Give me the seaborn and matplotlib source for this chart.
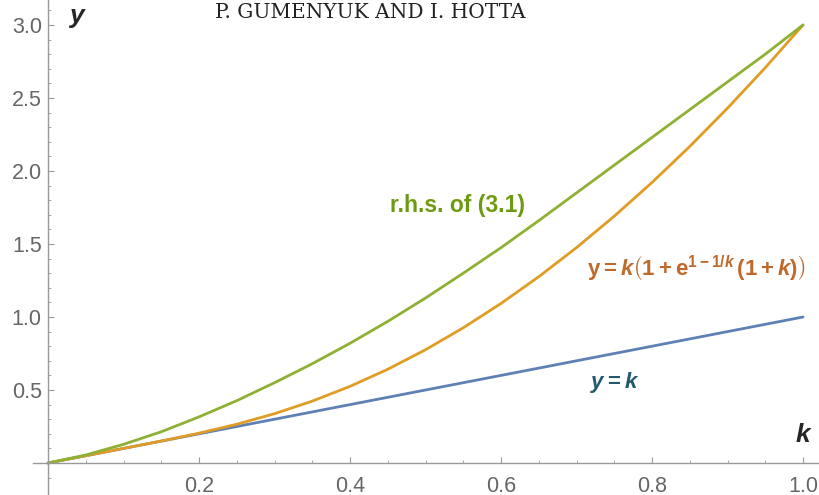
import matplotlib
matplotlib.use("Agg")
import matplotlib.pyplot as plt
import seaborn as sns
import pandas as pd

# curve values
k_vals = [0.0, 0.05, 0.1, 0.15, 0.2, 0.25, 0.3, 0.35, 0.4, 0.45, 0.5,
          0.55, 0.6, 0.65, 0.7, 0.75, 0.8, 0.85, 0.9, 0.95, 1.0]
line_vals = [0.0, 0.05, 0.1, 0.15, 0.2, 0.25, 0.3, 0.35, 0.4, 0.45, 0.5,
             0.55, 0.6, 0.65, 0.7, 0.75, 0.8, 0.85, 0.9, 0.95, 1.0]
exp_vals = [0.0, 0.05, 0.1, 0.1506, 0.2044, 0.2656, 0.3378, 0.4238, 0.5250,
            0.6422, 0.7759, 0.9262, 1.0929, 1.2760, 1.4752, 1.6905, 1.9215,
            2.1681, 2.4302, 2.7075, 3.0]
rhs_vals = [0.0, 0.055, 0.128, 0.214, 0.316, 0.427, 0.55, 0.68, 0.82, 0.97,
            1.13, 1.30, 1.475, 1.66, 1.85, 2.04, 2.23, 2.42, 2.61, 2.80, 3.0]

curve_names = ["y = k", "exp", "rhs"]
curve_colors = ["#5E81B5", "#E19C24", "#8FB032"]

x_ticks = [0.2, 0.4, 0.6, 0.8, 1.0]
x_ticklabels = ["0.2", "0.4", "0.6", "0.8", "1.0"]
y_ticks = [0.5, 1.0, 1.5, 2.0, 2.5, 3.0]
y_ticklabels = ["0.5", "1.0", "1.5", "2.0", "2.5", "3.0"]
x_minor = [0.05 * i for i in range(1, 21)]
y_minor = [0.1 * i for i in range(-1, 32)]

df = pd.DataFrame({
    "k": k_vals * 3,
    "y": line_vals + exp_vals + rhs_vals,
    "curve": [curve_names[0]] * len(k_vals) + [curve_names[1]] * len(k_vals)
             + [curve_names[2]] * len(k_vals),
})

sns.set_style("white")
plt.rcParams["font.family"] = ["Liberation Sans", "DejaVu Sans"]
plt.rcParams["mathtext.fontset"] = "custom"
plt.rcParams["mathtext.rm"] = "Liberation Sans:bold"
plt.rcParams["mathtext.it"] = "Liberation Sans:bold:italic"
plt.rcParams["mathtext.bf"] = "Liberation Sans:bold"

fig = plt.figure(figsize=(8.2, 4.95), dpi=100)
ax = fig.add_axes([0, 0, 1, 1])

sns.lineplot(data=df, x="k", y="y", hue="curve", hue_order=curve_names,
             palette=curve_colors, linewidth=2.0, legend=False, ax=ax)

ax.set_xlim(-0.0636, 1.0225)
ax.set_ylim(-0.219, 3.171)
ax.set_xlabel("")
ax.set_ylabel("")

for s in ["top", "right"]:
    ax.spines[s].set_visible(False)
ax.spines["left"].set_position(("data", 0))
ax.spines["bottom"].set_position(("data", 0))
ax.spines["bottom"].set_bounds(-0.02, 1.0225)
ax.spines["left"].set_bounds(-0.219, 3.171)
for s in ["left", "bottom"]:
    ax.spines[s].set_color("#999999")
    ax.spines[s].set_linewidth(1.0)

ax.set_xticks(x_ticks)
ax.set_xticklabels(x_ticklabels)
ax.set_yticks(y_ticks)
ax.set_yticklabels(y_ticklabels)
ax.set_xticks(x_minor, minor=True)
ax.set_yticks(y_minor, minor=True)
ax.tick_params(which="major", direction="in", length=4, width=0.8,
               color="#999999", labelsize=15.5, labelcolor="#666666")
ax.tick_params(which="minor", direction="in", length=2.2, width=0.6,
               color="#999999")
ax.tick_params(axis="x", which="major", pad=9)
ax.tick_params(axis="y", which="major", pad=4.5)
ax.tick_params(axis="both", which="both", bottom=True, left=True)

# axis names
ax.text(0.038, 3.06, "y", fontsize=19, fontweight="bold", style="italic",
        ha="center", va="center")
ax.text(1.0, 0.19, "k", fontsize=19, fontweight="bold", style="italic",
        ha="center", va="center")

# curve labels
ax.text(0.543, 1.767, "r.h.s. of (3.1)", fontsize=16.5, fontweight="bold",
        color="#6E9A12", ha="center", va="center")
ax.text(0.858, 1.33, r"$\mathrm{y} = k\left(1 + \mathrm{e}^{1-1/k}\,(1+k)\right)$",
        fontsize=16, color="#C0692C", ha="center", va="center")
ax.text(0.75, 0.55, r"$y = k$", fontsize=16, color="#235A70",
        ha="center", va="center")

# running head of the source page
fig.text(370 / 820, 1 - 12 / 495, "P. GUMENYUK AND I. HOTTA",
         family="DejaVu Serif", fontsize=14.5, color="#222222",
         ha="center", va="center")

fig.savefig("out.png", dpi=100)
plt.close(fig)
